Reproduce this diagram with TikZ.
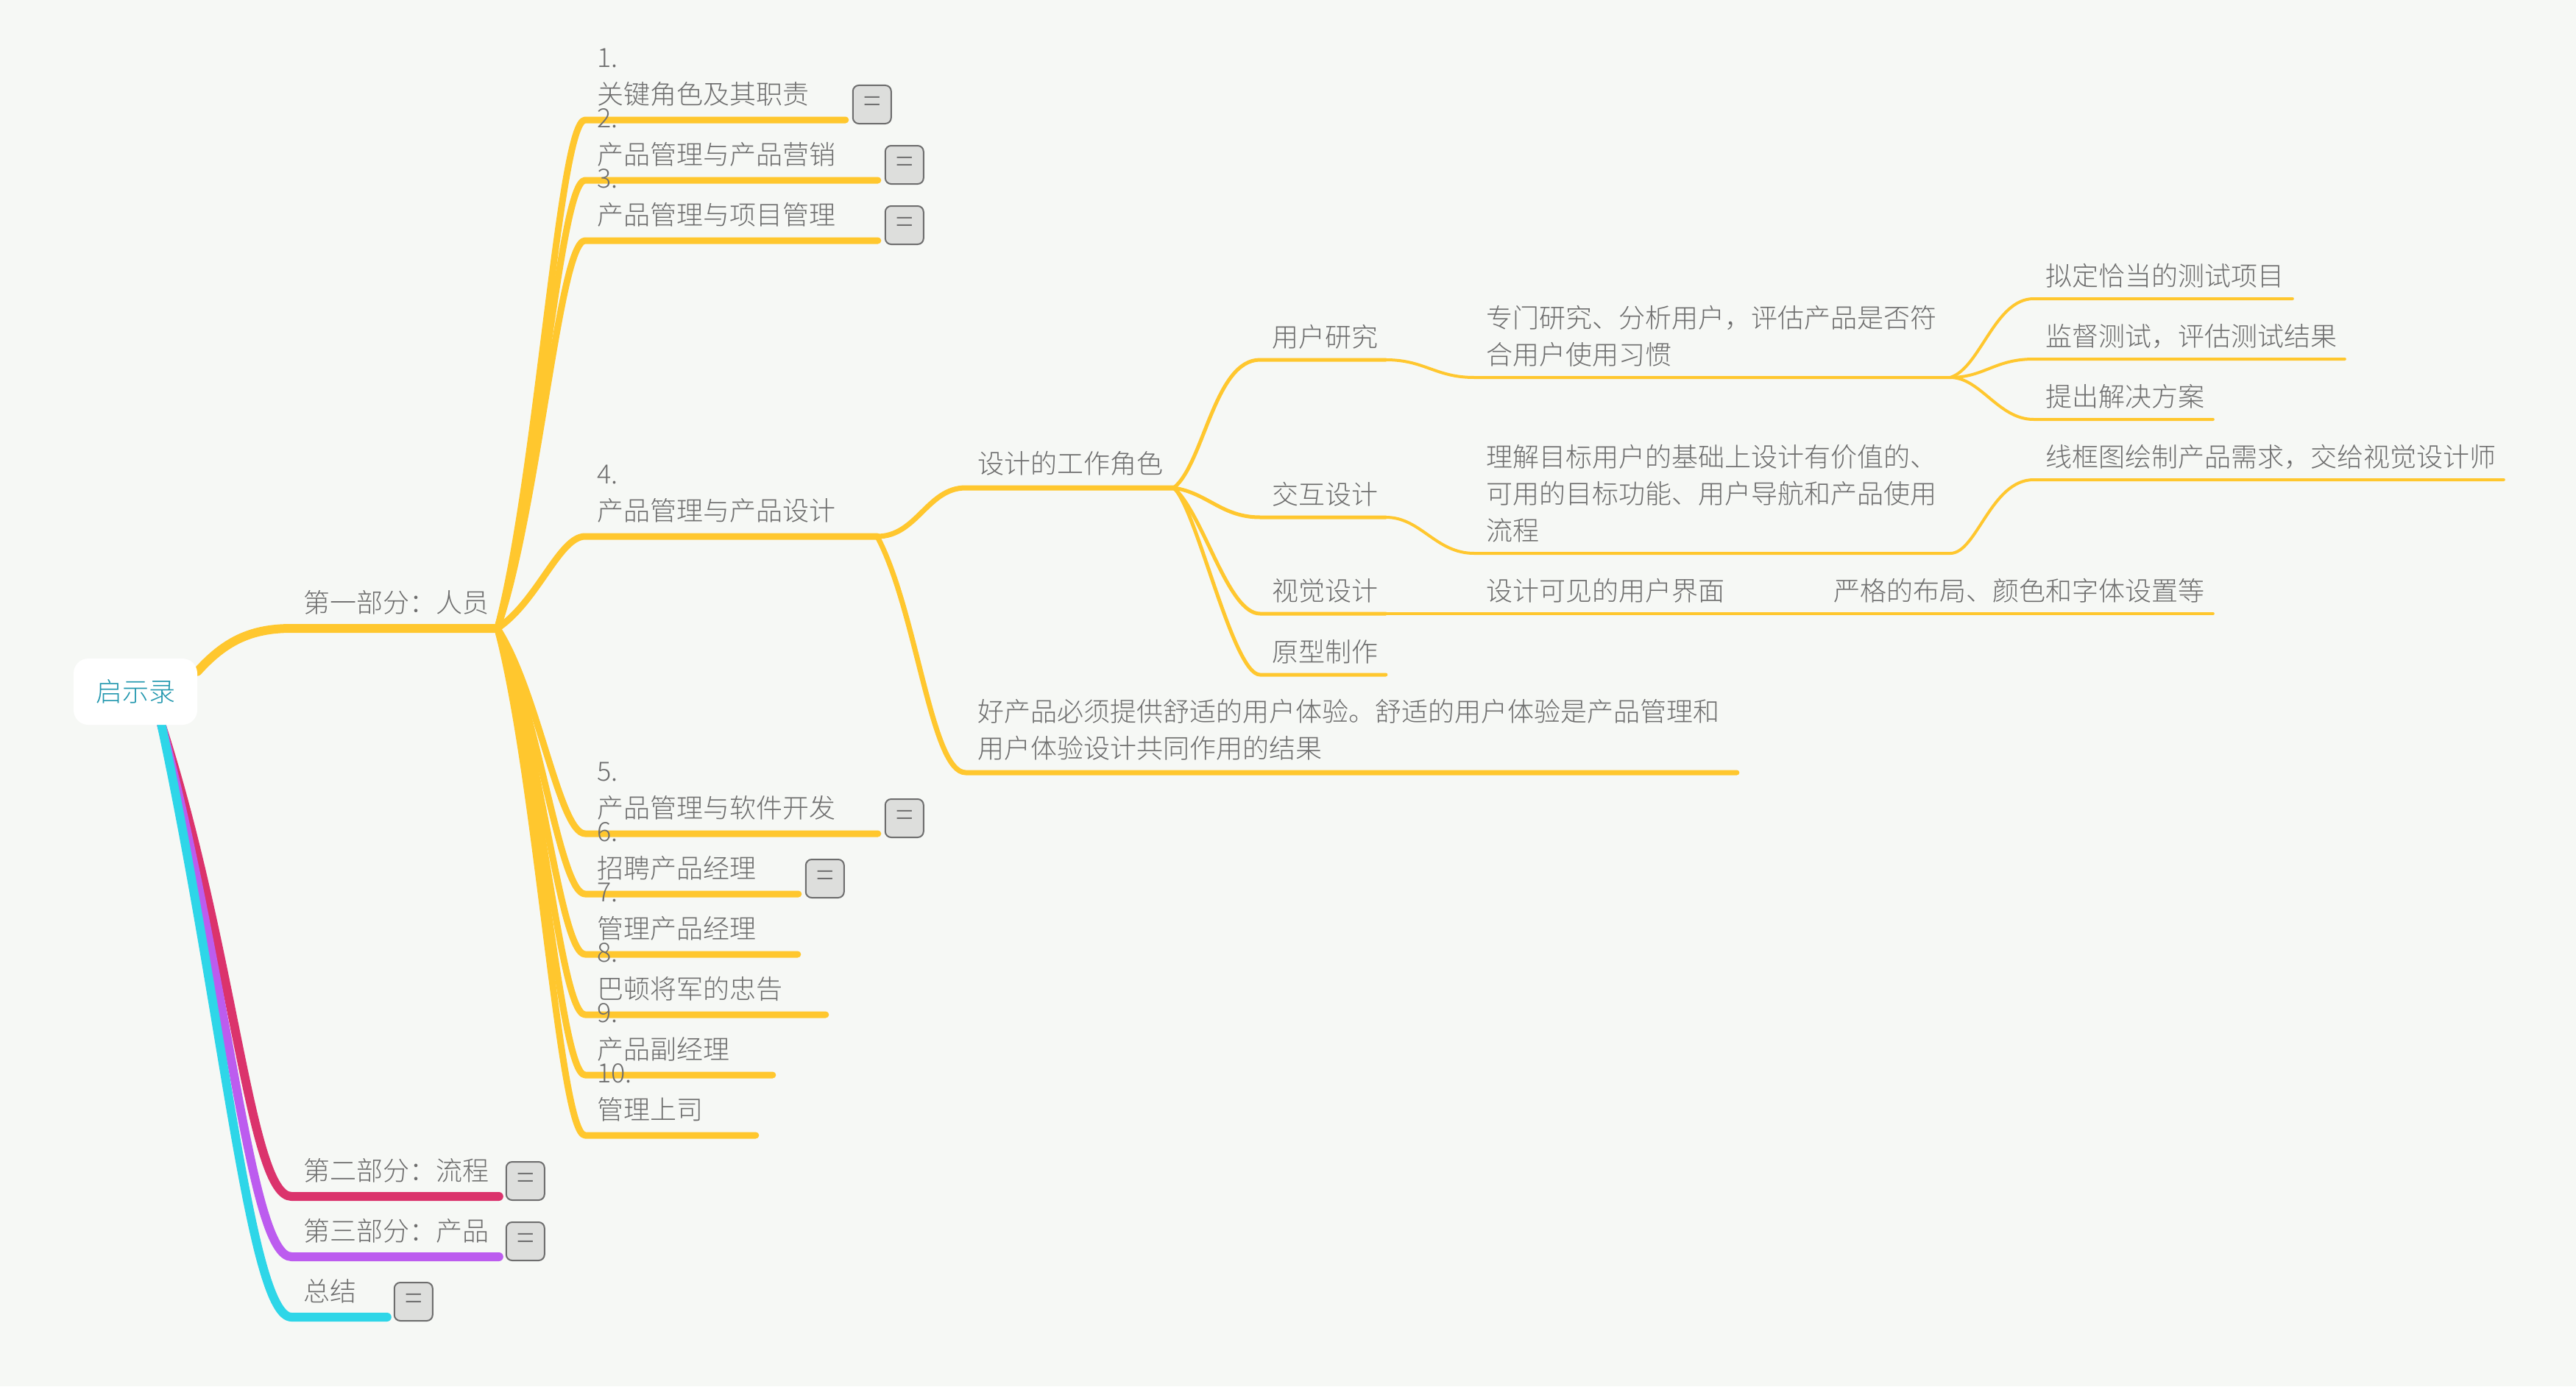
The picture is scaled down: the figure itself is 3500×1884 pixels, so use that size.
\documentclass[tikz,border=0pt]{standalone}
\usepackage{fontspec}
\setmainfont{Noto Sans CJK SC Light}
\usetikzlibrary{positioning}
\pgfdeclarelayer{back}
\pgfsetlayers{back,main}
\definecolor{paper}{HTML}{F6F8F5}
\definecolor{ink}{HTML}{6E6E6E}
\definecolor{rootink}{HTML}{2197AE}
\definecolor{amber}{HTML}{FFC72E}
\definecolor{rose}{HTML}{DB336C}
\definecolor{violet}{HTML}{BC5CEF}
\definecolor{aqua}{HTML}{2ED6E8}
\definecolor{foldfill}{HTML}{DDDEDC}
\tikzset{
    lbl/.style={anchor=south west, inner xsep=8pt, inner ysep=3pt, text width={(#1-32)*0.5pt}, align=left, text=ink, font=\fontsize{18}{25}\selectfont, execute at begin node=\strut, execute at end node=\strut},
    lblb/.style={lbl=#1, inner ysep=1pt},
    rootbox/.style={fill=white, rounded corners=10pt, minimum width=84pt, minimum height=45pt, inner sep=0pt, text=rootink, font=\fontsize{18}{25}\selectfont},
    foldbox/.style={anchor=south west, draw=ink, line width=1pt, fill=foldfill, rounded corners=4pt, minimum width=26pt, minimum height=26pt, inner sep=0pt, text=ink, font=\fontsize{22}{22}\selectfont},
    link/.style={line width=#1*0.5pt, line cap=round, line join=round, draw=amber}
}
\begin{document}
\begin{tikzpicture}[x=0.5pt, y=-0.5pt]
        \node[rootbox] (root) at (184,940) {启示录};

        \node[lbl=279] (partA) at (396,854) {第一部分：人员};
        \node[lbl=281] (partB) at (396,1626) {第二部分：流程};
        \node[lbl=281] (partC) at (396,1708) {第三部分：产品};
        \node[lbl=129] (partD) at (396,1790) {总结};

        \node[lbl=353] (top1) at (795,163) {1. 关键角色及其职责};
        \node[lbl=397] (top2) at (795,245) {2. 产品管理与产品营销};
        \node[lbl=397] (top3) at (795,327) {3. 产品管理与项目管理};
        \node[lbl=396] (top4) at (795,729) {4. 产品管理与产品设计};
        \node[lbl=397] (top5) at (795,1133) {5. 产品管理与软件开发};
        \node[lbl=289] (top6) at (795,1215) {6. 招聘产品经理};
        \node[lbl=288] (top7) at (795,1297) {7. 管理产品经理};
        \node[lbl=326] (top8) at (795,1379) {8. 巴顿将军的忠告};
        \node[lbl=254] (top9) at (795,1461) {9. 产品副经理};
        \node[lbl=231] (top10) at (795,1543) {10. 管理上司};

        \node[lbl=282, inner ysep=2pt] (role) at (1312,663) {设计的工作角色};
        \node[lbl=1047, inner ysep=2pt] (good) at (1312,1050) {好产品必须提供舒适的用户体验。舒适的用户体验是产品管理和\\用户体验设计共同作用的结果};

        \node[lblb=170] (res) at (1712,489) {用户研究};
        \node[lblb=170] (inter) at (1712,703) {交互设计};
        \node[lblb=170] (vis) at (1712,834) {视觉设计};
        \node[lblb=170] (proto) at (1712,917) {原型制作};

        \node[lblb=646] (resd) at (2003,513) {专门研究、分析用户，评估产品是否符\\合用户使用习惯};
        \node[lblb=646] (interd) at (2003,752) {理解目标用户的基础上设计有价值的、\\可用的目标功能、用户导航和产品使用\\流程};
        \node[lblb=349] (visd) at (2003,834) {设计可见的用户界面};
        \node[lblb=531] (visx) at (2475,834) {严格的布局、颜色和字体设置等};

        \node[lblb=351] (plan) at (2763,406) {拟定恰当的测试项目};
        \node[lblb=422] (watch) at (2763,488) {监督测试，评估测试结果};
        \node[lblb=243] (solve) at (2763,570) {提出解决方案};
        \node[lblb=638] (wire) at (2763,652) {线框图绘制产品需求，交给视觉设计师};

        \foreach \n in {top1,top2,top3,top5,top6,partB,partC,partD} {
            \node[foldbox] (fold\n) at ([shift={(9,6)}]\n.south east) {=};
        }

        \begin{pgfonlayer}{back}
        \fill[paper] (0,0) rectangle (3500,1884);

        \draw[link=12, draw=rose] (root.-52) .. controls (320,1300) and (340,1626) .. (partB.south west) -- (partB.south east);
        \draw[link=12, draw=violet] (root.-52) .. controls (312,1340) and (340,1708) .. (partC.south west) -- (partC.south east);
        \draw[link=12, draw=aqua] (root.-52) .. controls (304,1380) and (340,1790) .. (partD.south west) -- (partD.south east);
        \draw[link=12] (root.18) .. controls (305,872) and (340,854) .. (partA.south west) -- (partA.south east);

        \foreach \n/\h in {top1/-207,top2/-183,top3/-158,top4/-37,top5/84,top6/108,top7/133,top8/157,top9/182,top10/207} {
            \draw[link=9] (partA.south east) .. controls +(55,\h) and +(-35,0) .. (\n.south west) -- (\n.south east);
        }

        \draw[link=7] (top4.south east) .. controls +(54,0) and +(-52,0) .. (role.south west) -- (role.south east);
        \draw[link=7] (top4.south east) .. controls +(54,101) and +(-47,0) .. (good.south west) -- (good.south east);

        \draw[link=5] (role.south east) .. controls +(41,-33) and +(-62,0) .. (res.south west) -- (res.south east);
        \draw[link=5] (role.south east) .. controls +(46,7) and +(-52,0) .. (inter.south west) -- (inter.south east);
        \draw[link=5] (role.south east) .. controls +(41,37) and +(-44,0) .. (vis.south west) -- (vis.south east);
        \draw[link=5] (role.south east) .. controls +(31,27) and +(-37,0) .. (proto.south west) -- (proto.south east);

        \draw[link=4] (res.south east) .. controls +(53,0) and +(-53,0) .. (resd.south west) -- (resd.south east);
        \draw[link=4] (inter.south east) .. controls +(48,0) and +(-53,0) .. (interd.south west) -- (interd.south east);
        \draw[link=4] (vis.south east) -- (visd.south west) -- (visd.south east);
        \draw[link=4] (visd.south east) -- (visx.south west) -- (visx.south east);

        \draw[link=4] (resd.south east) .. controls +(41,-13) and +(-53,0) .. (plan.south west) -- (plan.south east);
        \draw[link=4] (resd.south east) .. controls +(46,0) and +(-53,0) .. (watch.south west) -- (watch.south east);
        \draw[link=4] (resd.south east) .. controls +(41,0) and +(-48,0) .. (solve.south west) -- (solve.south east);
        \draw[link=4] (interd.south east) .. controls +(36,0) and +(-58,0) .. (wire.south west) -- (wire.south east);
        \end{pgfonlayer}
    \end{tikzpicture}
\end{document}
